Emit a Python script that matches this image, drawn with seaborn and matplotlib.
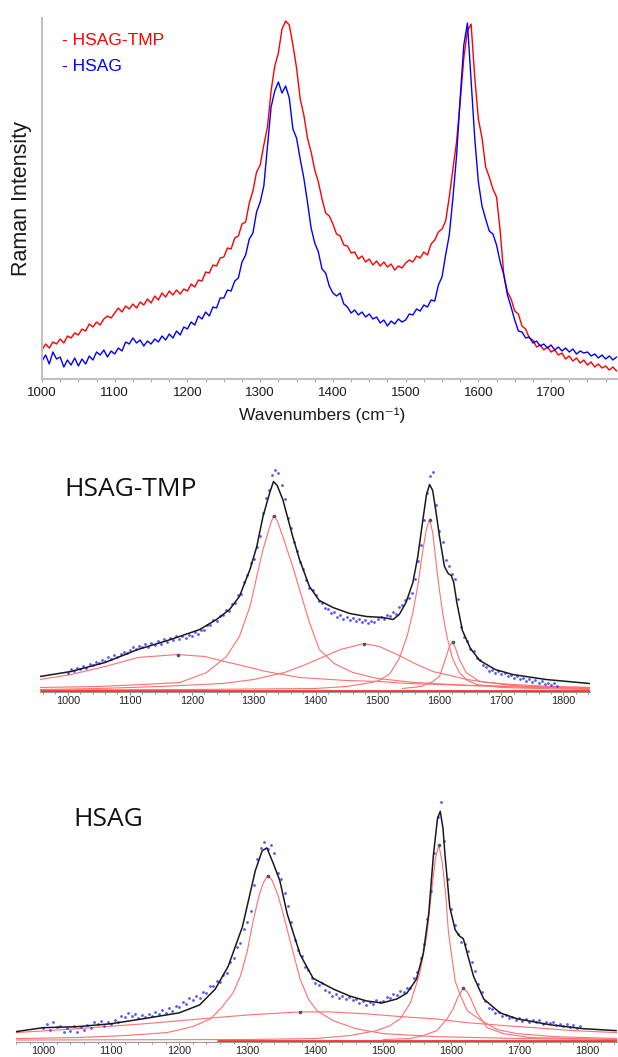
import matplotlib

matplotlib.use("Agg")
import matplotlib.pyplot as plt
import numpy as np
import seaborn as sns
from matplotlib.ticker import MultipleLocator


OUT = "out.png"

# Raman spectra, sampled every 5 cm-1 from 1000 to 1790 (arbitrary intensity)
WAVENUMBER = np.arange(1000, 1795, 5)

TMP_SPECTRUM = [
    29, 35, 31, 37, 35, 40, 36, 43, 41, 46,
    44, 50, 48, 55, 52, 57, 54, 60, 63, 61,
    66, 71, 67, 73, 70, 75, 71, 77, 74, 80,
    76, 83, 79, 86, 82, 88, 84, 89, 85, 90,
    88, 95, 92, 99, 98, 107, 106, 114, 113, 121,
    122, 131, 130, 141, 143, 155, 157, 176, 188, 207,
    214, 234, 252, 288, 313, 326, 350, 358, 354, 334,
    311, 280, 264, 241, 227, 209, 197, 180, 166, 163,
    155, 145, 143, 134, 133, 126, 127, 120, 123, 117,
    120, 114, 118, 113, 117, 112, 115, 109, 113, 111,
    116, 119, 117, 123, 121, 127, 124, 135, 139, 147,
    150, 158, 182, 210, 237, 277, 321, 348, 355, 302,
    260, 241, 212, 202, 190, 182, 148, 104, 87, 80,
    68, 65, 53, 50, 41, 39, 32, 34, 29, 32,
    27, 29, 24, 26, 20, 23, 18, 21, 16, 19,
    14, 17, 12, 15, 11, 13, 9, 12, 8,
]

HSAG_SPECTRUM = [
    18, 24, 15, 27, 20, 22, 12, 19, 14, 21,
    13, 20, 15, 23, 19, 27, 24, 29, 22, 28,
    25, 31, 28, 37, 35, 41, 36, 39, 33, 38,
    35, 40, 37, 43, 39, 45, 41, 48, 44, 52,
    50, 57, 54, 63, 60, 67, 63, 72, 71, 81,
    81, 89, 88, 98, 101, 117, 124, 140, 146, 167,
    177, 193, 233, 272, 288, 297, 286, 293, 281, 250,
    241, 220, 201, 177, 151, 136, 127, 110, 106, 93,
    86, 83, 86, 75, 72, 66, 69, 64, 67, 62,
    65, 60, 62, 56, 59, 53, 58, 55, 60, 57,
    59, 65, 64, 70, 68, 74, 72, 79, 78, 94,
    102, 124, 144, 181, 223, 281, 334, 356, 298, 241,
    197, 173, 160, 148, 145, 134, 117, 104, 84, 72,
    59, 48, 47, 41, 42, 36, 38, 33, 35, 31,
    34, 29, 32, 28, 31, 27, 30, 25, 28, 26,
    27, 23, 25, 21, 24, 20, 23, 19, 22,
]

# peak fit of HSAG-TMP (fit panel units)
TMP_FIT_X = [955, 1005, 1060, 1113, 1166, 1213, 1240, 1261, 1277, 1294, 1305, 1315,
             1326, 1332, 1338, 1347, 1363, 1374, 1390, 1406, 1428, 1455, 1482, 1509,
             1525, 1535, 1546, 1557, 1565, 1573, 1579, 1584, 1589, 1594, 1600, 1608,
             1614, 1619, 1623, 1628, 1637, 1650, 1665, 1690, 1718, 1772, 1842]
TMP_FIT_Y = [14, 19, 28, 41, 51, 61, 71, 81, 94, 121, 144, 174,
             198, 209, 205, 191, 154, 131, 104, 90, 83, 77, 74, 73,
             71, 76, 88, 108, 134, 170, 196, 206, 200, 180, 154, 124,
             117, 115, 108, 88, 60, 42, 30, 21, 16, 11, 7]

TMP_BAND1_X = [955, 1005, 1060, 1113, 1177, 1221, 1253, 1274, 1320, 1374, 1450, 1503,
               1550, 1650, 1750, 1842]
TMP_BAND1_Y = [11, 16, 24, 33, 36, 34, 29, 26, 19, 13, 10, 9, 7, 5, 4, 3]

TMP_D_X = [955, 1050, 1120, 1181, 1224, 1256, 1277, 1294, 1305, 1315, 1326, 1332, 1338,
           1347, 1363, 1374, 1390, 1406, 1430, 1460, 1500, 1560, 1650, 1750, 1842]
TMP_D_Y = [3, 4, 6, 8, 18, 34, 54, 84, 114, 141, 164, 175, 170,
           154, 124, 101, 68, 41, 27, 18, 12, 8, 5, 3, 2]

TMP_BAND3_X = [955, 1050, 1150, 1250, 1300, 1350, 1380, 1410, 1440, 1478, 1503, 1535,
               1560, 1589, 1611, 1644, 1680, 1718, 1780, 1842]
TMP_BAND3_Y = [1, 2, 4, 7, 11, 18, 25, 33, 41, 47, 44, 35, 27, 19, 16, 11, 8, 6, 4, 3]

TMP_G_X = [955, 1200, 1400, 1450, 1490, 1503, 1520, 1535, 1548, 1557, 1565, 1573, 1579,
           1584, 1589, 1595, 1600, 1606, 1612, 1621, 1632, 1645, 1660, 1700, 1760, 1842]
TMP_G_Y = [0.5, 1, 2, 4, 8, 10, 17, 32, 55, 78, 105, 140, 162,
           171, 158, 125, 100, 74, 54, 32, 18, 10, 6, 3, 2, 1]

TMP_DP_X = [1540, 1570, 1589, 1600, 1611, 1616, 1621, 1626, 1632, 1643, 1665, 1718, 1780, 1842]
TMP_DP_Y = [2, 4, 9, 14, 34, 44, 49, 42, 31, 18, 9, 5, 3, 2]

# peak fit of HSAG
HSAG_FIT_X = [960, 1000, 1050, 1100, 1147, 1200, 1230, 1253, 1272, 1293, 1312, 1322,
              1329, 1338, 1348, 1359, 1378, 1397, 1427, 1451, 1476, 1498, 1520, 1535,
              1549, 1559, 1567, 1574, 1580, 1584, 1588, 1591, 1598, 1606, 1612, 1618,
              1625, 1633, 1648, 1672, 1697, 1745, 1794, 1843]
HSAG_FIT_Y = [9, 13, 14, 17, 22, 28, 36, 52, 75, 115, 172, 192,
              195, 180, 162, 128, 87, 63, 52, 45, 40, 38, 42, 48,
              62, 88, 128, 188, 225, 232, 215, 188, 135, 112, 106, 103,
              85, 65, 42, 28, 22, 16, 12, 10]

HSAG_BAND1_X = [960, 1050, 1150, 1250, 1304, 1378, 1420, 1476, 1530, 1575, 1625, 1680,
                1722, 1780, 1844]
HSAG_BAND1_Y = [8, 12, 17, 23, 26, 29, 29, 27, 24, 22, 18, 15, 13, 10, 8]

HSAG_D_X = [960, 1050, 1120, 1182, 1220, 1246, 1262, 1279, 1290, 1300, 1309, 1318, 1324,
            1330, 1336, 1345, 1353, 1365, 1378, 1390, 1403, 1427, 1460, 1500, 1574, 1700, 1844]
HSAG_D_Y = [2, 3, 5, 8, 14, 22, 33, 48, 65, 90, 122, 148, 160,
            167, 163, 148, 128, 96, 62, 42, 30, 20, 12, 7, 4, 2, 1]

HSAG_G_X = [960, 1300, 1400, 1451, 1490, 1510, 1525, 1540, 1554, 1564, 1572, 1577, 1582,
            1587, 1592, 1596, 1606, 1614, 1624, 1643, 1668, 1697, 1750, 1844]
HSAG_G_Y = [0.5, 1, 2, 5, 10, 15, 22, 38, 68, 105, 155, 185, 198,
            180, 148, 110, 60, 45, 30, 21, 11, 7, 4, 2]

HSAG_DP_X = [1500, 1540, 1559, 1579, 1594, 1603, 1610, 1618, 1624, 1628, 1638, 1653,
             1677, 1716, 1780, 1844]
HSAG_DP_Y = [1, 2, 5, 10, 22, 32, 44, 53, 49, 44, 28, 13, 7, 3, 2, 1]

TMP_BASE_START = 955
HSAG_BASE_START = 1256

SPEC_RED = "#ff0000"
SPEC_BLUE = "#0000ff"
COMP_RED = "#ff7070"
FIT_BLACK = "#1a1a1a"
DOT_BLUE = "#3a3aff"
AXIS_GREY = "#a8a8a8"


def draw_fit_panel(ax, spectrum, scale, fit, components, base_start, xlim, ylim, title):
    for cx, cy in components:
        sns.lineplot(x=cx, y=cy, ax=ax, color=COMP_RED, linewidth=0.8)
        k = int(np.argmax(cy))
        ax.plot(cx[k], cy[k], marker="o", markersize=1.6, color="#555555", zorder=4)
    ax.hlines(0, base_start, xlim[1], color="#ff3030", linewidth=2.0, zorder=3)
    sns.scatterplot(x=WAVENUMBER, y=np.asarray(spectrum) * scale, ax=ax, s=4,
                    color=DOT_BLUE, linewidth=0, alpha=0.85, zorder=2)
    sns.lineplot(x=fit[0], y=fit[1], ax=ax, color=FIT_BLACK, linewidth=1.1, zorder=5)

    ax.set_xlim(*xlim)
    ax.set_ylim(*ylim)
    ax.set_yticks([])
    ax.set_xlabel("")
    ax.set_ylabel("")
    ax.xaxis.set_major_locator(MultipleLocator(100))
    ax.xaxis.set_minor_locator(MultipleLocator(20))
    ax.tick_params(axis="x", which="both", direction="out", colors="#777777",
                   labelcolor="#222222", labelsize=7.8, length=2.2, width=0.6, pad=0.4,
                   bottom=True)
    ax.tick_params(axis="x", which="minor", length=1.6)
    for side in ("left", "right", "top"):
        ax.spines[side].set_visible(False)
    ax.spines["bottom"].set_color("#999999")
    ax.spines["bottom"].set_linewidth(0.8)
    ax.text(title[1], title[2], title[0], transform=ax.transAxes, ha="left",
            va="center", fontsize=19, family=["Open Sans", "DejaVu Sans"],
            color="#111111")


def main() -> None:
    sns.set_theme(style="white")
    plt.rcParams["font.family"] = ["Liberation Sans", "DejaVu Sans"]

    fig = plt.figure(figsize=(6.18, 10.57), dpi=100)

    # top: raw spectra
    ax = fig.add_axes([42 / 618, 1 - 379 / 1057, 576 / 618, 361 / 1057])
    sns.lineplot(x=WAVENUMBER, y=TMP_SPECTRUM, ax=ax, color=SPEC_RED, linewidth=1.0)
    sns.lineplot(x=WAVENUMBER, y=HSAG_SPECTRUM, ax=ax, color=SPEC_BLUE, linewidth=1.0)
    ax.set_xlim(1000, 1792)
    ax.set_ylim(0, 361)
    ax.set_yticks([])
    ax.xaxis.set_major_locator(MultipleLocator(100))
    ax.xaxis.set_minor_locator(MultipleLocator(25))
    ax.tick_params(axis="x", which="both", direction="out", colors=AXIS_GREY,
                   labelcolor="#1a1a1a", labelsize=9.5, length=2.5, width=0.8,
                   pad=3, bottom=True)
    ax.tick_params(axis="x", which="minor", length=1.8)
    for side in ("right", "top"):
        ax.spines[side].set_visible(False)
    for side in ("left", "bottom"):
        ax.spines[side].set_color("#c0c0c0")
        ax.spines[side].set_linewidth(1.5)
    ax.set_xlabel("Wavenumbers (cm\u207b\u00b9)", fontsize=12.5, color="#1a1a1a")
    ax.xaxis.set_label_coords(0.486, -0.078)
    ax.set_ylabel("")
    fig.text(22 / 618, 1 - 199 / 1057, "Raman Intensity", rotation=90, ha="center",
             va="center", fontsize=15.5, color="#1a1a1a")
    ax.text(0.035, 0.939, "- HSAG-TMP", transform=ax.transAxes, color=SPEC_RED,
            fontsize=12.5, va="center")
    ax.text(0.035, 0.867, "- HSAG", transform=ax.transAxes, color=SPEC_BLUE,
            fontsize=12.5, va="center")

    # middle: HSAG-TMP fit
    ax_m = fig.add_axes([40 / 618, 1 - 692 / 1057, 550 / 618, 223.5 / 1057])
    draw_fit_panel(
        ax_m, TMP_SPECTRUM, 0.615, (TMP_FIT_X, TMP_FIT_Y),
        [(TMP_BAND1_X, TMP_BAND1_Y), (TMP_D_X, TMP_D_Y), (TMP_BAND3_X, TMP_BAND3_Y),
         (TMP_G_X, TMP_G_Y), (TMP_DP_X, TMP_DP_Y)],
        TMP_BASE_START, (955, 1843), (-1.5, 222), ("HSAG-TMP", 0.045, 0.905),
    )

    # bottom: HSAG fit
    ax_b = fig.add_axes([16 / 618, 15 / 1057, 601 / 618, 243.5 / 1057])
    draw_fit_panel(
        ax_b, HSAG_SPECTRUM, 0.677, (HSAG_FIT_X, HSAG_FIT_Y),
        [(HSAG_BAND1_X, HSAG_BAND1_Y), (HSAG_D_X, HSAG_D_Y), (HSAG_G_X, HSAG_G_Y),
         (HSAG_DP_X, HSAG_DP_Y)],
        HSAG_BASE_START, (960, 1844), (-1.5, 245), ("HSAG", 0.095, 0.915),
    )

    fig.savefig(OUT, dpi=100)
    plt.close(fig)


if __name__ == "__main__":
    main()
